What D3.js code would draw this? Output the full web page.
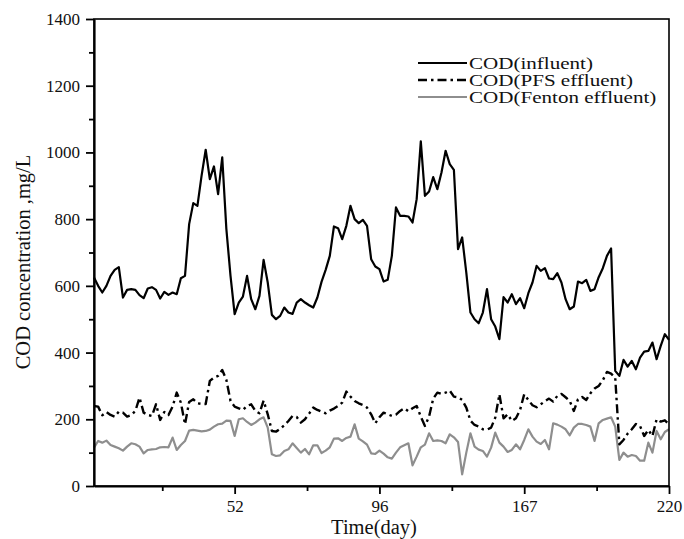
<!DOCTYPE html>
<html>
<head>
<meta charset="utf-8">
<script src="https://cdn.jsdelivr.net/npm/d3@7"></script>
<style>
  body { margin: 0; background: #fff; }
  svg text { font-family: "Liberation Serif", "Times New Roman", serif; fill: #111; }
</style>
</head>
<body>
<svg id="chart" width="684" height="539"></svg>
<script>
// Sample number along the time axis (one reading per sample)
const sampleIndex = d3.range(1, 141);

// COD of the raw influent, mg/L
const influent = [
  625, 600, 580, 600, 630, 648, 656, 565, 588, 590,
  588, 572, 563, 592, 596, 588, 562, 582, 573, 580,
  575, 623, 630, 785, 848, 840, 930, 1008, 920, 958,
  875, 985, 770, 630, 515, 550, 568, 630, 560, 530,
  570, 678, 610, 513, 500, 510, 535, 520, 516, 550,
  560, 550, 542, 535, 565, 612, 648, 690, 778, 773,
  740, 780, 840, 800, 788, 798, 780, 680, 658, 650,
  613, 618, 690, 835, 810, 810, 808, 790, 860, 1033,
  870, 883, 926, 890, 940, 1005, 965, 948, 710, 745,
  640, 520, 500, 488, 520, 590, 500, 478, 440, 566,
  550, 575, 545, 563, 533, 578, 610, 660, 645, 653,
  622, 620, 638, 610, 560, 530, 538, 613, 608, 618,
  585, 590, 626, 653, 690, 712, 345, 330, 378, 358,
  375, 350, 385, 403, 405, 430, 380, 420, 455, 438
];

// COD after PFS coagulation, mg/L
const pfsEffluent = [
  240, 238, 212, 222, 213, 208, 223, 220, 208, 213,
  225, 265, 220, 213, 210, 245, 198, 222, 213, 238,
  280, 250, 185, 252, 260, 248, 246, 246, 315, 325,
  330, 348, 318, 255, 238, 233, 228, 240, 245, 225,
  218, 256, 215, 165, 163, 171, 182, 195, 210, 207,
  190, 200, 217, 235, 228, 223, 218, 226, 232, 240,
  250, 283, 268, 255, 248, 243, 235, 215, 188, 206,
  220, 215, 210, 214, 225, 233, 224, 233, 240, 208,
  180, 208, 262, 280, 276, 280, 286, 268, 266, 258,
  235, 196, 183, 178, 170, 169, 175, 205, 275, 203,
  215, 195, 203, 228, 275, 258, 242, 236, 245, 254,
  262, 253, 270, 276, 266, 255, 225, 260, 267, 258,
  278, 292, 300, 317, 342, 337, 325, 125, 138, 157,
  170, 186, 180, 150, 168, 150, 200, 193, 197, 185
];

// COD after Fenton oxidation, mg/L
const fentonEffluent = [
  115, 135, 130, 136, 123, 118, 113, 106, 118, 128,
  125, 118, 98, 108, 110, 111, 116, 117, 116, 145,
  108, 123, 135, 166, 168, 166, 164, 165, 169, 178,
  185, 187, 196, 195, 150, 200, 203, 192, 183, 190,
  200, 206, 175, 95, 90, 92, 105, 110, 128, 114,
  100, 111, 95, 122, 122, 99, 106, 116, 142, 143,
  135, 144, 148, 185, 142, 134, 124, 98, 96, 106,
  97, 86, 82, 100, 116, 122, 128, 62, 88, 116,
  124, 158, 135, 137, 135, 128, 155, 146, 132, 35,
  100, 158, 118, 109, 105, 88, 115, 160, 130, 118,
  102, 108, 125, 110, 138, 170, 148, 133, 126, 138,
  110, 188, 184, 178, 170, 152, 175, 186, 186, 183,
  178, 135, 188, 198, 202, 206, 178, 78, 100, 88,
  93, 90, 76, 76, 130, 100, 165, 140, 162, 170
];

// Time axis: labelled sample positions and their day labels
const dayTickPositions = [35, 70, 105, 140];
const dayTickLabels = ["52", "96", "167", "220"];
const dayMinorTicks = [17.5, 52.5, 87.5, 122.5];

// Concentration axis ticks
const codMajorTicks = [0, 200, 400, 600, 800, 1000, 1200, 1400];
const codMinorTicks = [100, 300, 500, 700, 900, 1100, 1300];

const seriesNames = ["COD(influent)", "COD(PFS effluent)", "COD(Fenton effluent)"];

const W = 684, H = 539;
const margin = { top: 19, right: 15, bottom: 53, left: 94 };
const svg = d3.select("#chart");

const x = d3.scaleLinear().domain([1, 140]).range([margin.left, W - margin.right]);
const y = d3.scaleLinear().domain([0, 1400]).range([H - margin.bottom, margin.top]);

const series = [
  { name: seriesNames[0], values: influent, color: "#000", width: 2.2, dash: null },
  { name: seriesNames[1], values: pfsEffluent, color: "#000", width: 2.4, dash: "9,4,2.5,4" },
  { name: seriesNames[2], values: fentonEffluent, color: "#8e8e8e", width: 2.2, dash: null }
];

const line = d3.line()
  .x((d, i) => x(sampleIndex[i]))
  .y(d => y(d));

// lines (grey first so the black traces sit on top)
[series[2], series[1], series[0]].forEach(s => {
  svg.append("path")
    .datum(s.values)
    .attr("d", line)
    .attr("fill", "none")
    .attr("stroke", s.color)
    .attr("stroke-width", s.width)
    .attr("stroke-linejoin", "round")
    .attr("stroke-dasharray", s.dash);
});

// frame
svg.append("rect")
  .attr("x", margin.left).attr("y", margin.top)
  .attr("width", W - margin.left - margin.right)
  .attr("height", H - margin.top - margin.bottom)
  .attr("fill", "none").attr("stroke", "#000").attr("stroke-width", 1.6);

// y axis
const yAxis = svg.append("g")
  .attr("transform", `translate(${margin.left},0)`)
  .call(d3.axisLeft(y).tickValues(codMajorTicks).tickSize(8).tickSizeOuter(0).tickPadding(6).tickFormat(d3.format("d")));
yAxis.select(".domain").attr("stroke-width", 2.2);
yAxis.selectAll(".tick line").attr("stroke-width", 1.8);
yAxis.selectAll(".tick text").attr("font-size", 17).attr("font-family", "Liberation Serif");

const yMinor = svg.append("g")
  .attr("transform", `translate(${margin.left},0)`)
  .call(d3.axisLeft(y).tickValues(codMinorTicks).tickSize(5).tickSizeOuter(0).tickFormat(""));
yMinor.select(".domain").remove();
yMinor.selectAll(".tick line").attr("stroke-width", 1.8);

// x axis
const xAxis = svg.append("g")
  .attr("transform", `translate(0,${H - margin.bottom})`)
  .call(d3.axisBottom(x).tickValues(dayTickPositions).tickSize(8).tickSizeOuter(0).tickPadding(6)
    .tickFormat((d, i) => dayTickLabels[i]));
xAxis.select(".domain").attr("stroke-width", 2.2);
xAxis.selectAll(".tick line").attr("stroke-width", 1.8);
xAxis.selectAll(".tick text").attr("font-size", 17).attr("font-family", "Liberation Serif");

const xMinor = svg.append("g")
  .attr("transform", `translate(0,${H - margin.bottom})`)
  .call(d3.axisBottom(x).tickValues(dayMinorTicks).tickSize(5).tickSizeOuter(0).tickFormat(""));
xMinor.select(".domain").remove();
xMinor.selectAll(".tick line").attr("stroke-width", 1.8);

// axis titles
svg.append("text")
  .attr("x", 374).attr("y", 534)
  .attr("text-anchor", "middle")
  .attr("font-size", 20.5)
  .text("Time(day)");

svg.append("text")
  .attr("transform", "translate(30,262) rotate(-90)")
  .attr("text-anchor", "middle")
  .attr("font-size", 20.5)
  .text("COD concentration ,mg/L");

// legend: sample line plus a horizontally widened label per series
const legend = svg.append("g").attr("transform", "translate(418,63)");
series.forEach((s, i) => {
  const row = legend.append("g").attr("transform", `translate(0,${i * 17})`);
  row.append("line")
    .attr("x1", 0).attr("x2", 49).attr("y1", 0).attr("y2", 0)
    .attr("stroke", s.color).attr("stroke-width", s.width)
    .attr("stroke-dasharray", s.dash);
  row.append("text")
    .attr("transform", "translate(51,5.5) scale(1.24,1)")
    .attr("font-size", 17)
    .text(s.name);
});
</script>
</body>
</html>
